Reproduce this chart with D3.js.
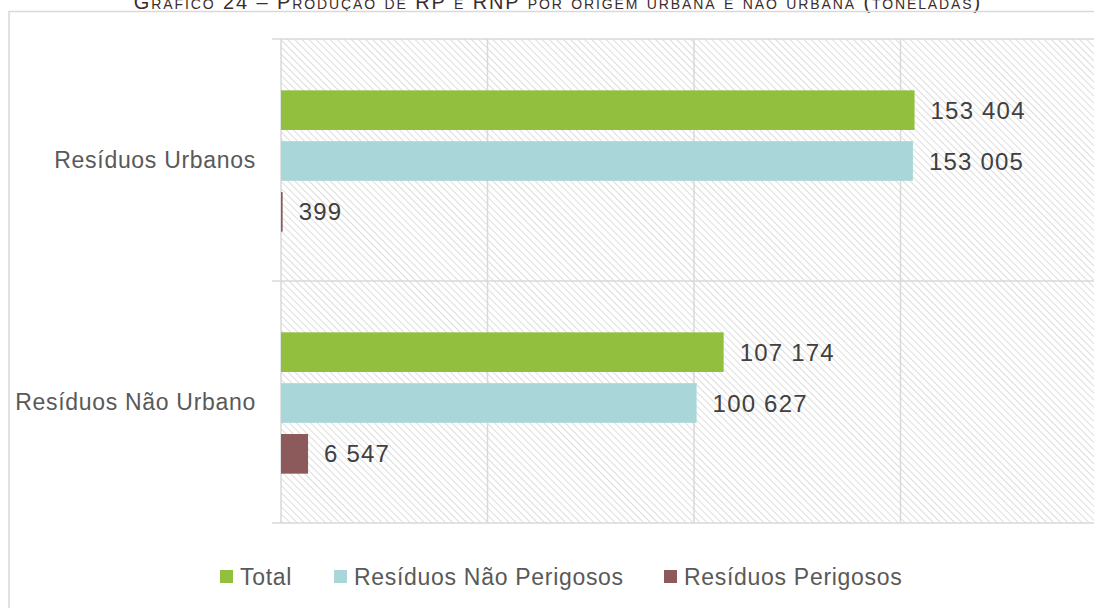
<!DOCTYPE html>
<html>
<head>
<meta charset="utf-8">
<script src="https://cdn.jsdelivr.net/npm/d3@7"></script>
<style>
  html, body { margin: 0; padding: 0; background: #fff; }
  svg { display: block; font-family: "Liberation Sans", Arial, sans-serif; }
</style>
</head>
<body>
<svg id="chart" width="1094" height="608"></svg>
<script>
// dados
const categorias = ['Resíduos Urbanos', 'Resíduos Não Urbano'];
const series = ['Total', 'Resíduos Não Perigosos', 'Resíduos Perigosos'];
const valoresTotal = [153404, 107174];
const valoresNaoPerigosos = [153005, 100627];
const valoresPerigosos = [399, 6547];
const ticksX = [0, 50000, 100000, 150000, 200000];
const coresSeries = ['#93bf3f', '#a9d6d8', '#8c5a5a'];
const tituloGrafico = 'Gráfico 24 – Produção de RP e RNP por origem urbana e não urbana (toneladas)';

const valoresPorSerie = [valoresTotal, valoresNaoPerigosos, valoresPerigosos];

const svg = d3.select('#chart');
const largura = 1094, altura = 608;
const margem = { topo: 39, esquerda: 281, baixo: 523 };

// padrão tracejado do fundo
const defs = svg.append('defs');
const padrao = defs.append('pattern')
    .attr('id', 'tracejado')
    .attr('patternUnits', 'userSpaceOnUse')
    .attr('width', 5)
    .attr('height', 5)
    .attr('patternTransform', 'rotate(-45)');
padrao.append('line')
    .attr('x1', 0).attr('y1', 0).attr('x2', 0).attr('y2', 5)
    .attr('stroke', '#d4d4d4')
    .attr('stroke-width', 1.6);

// título (cortado no topo como no original)
svg.append('text')
    .attr('x', 558)
    .attr('y', 9)
    .attr('text-anchor', 'middle')
    .style('font-size', '20px')
    .style('font-variant', 'small-caps')
    .style('letter-spacing', '1.9px')
    .attr('fill', '#3a2c2c')
    .text(tituloGrafico);

// moldura do gráfico
svg.append('rect')
    .attr('x', 9)
    .attr('y', 11.5)
    .attr('width', 1200)
    .attr('height', 700)
    .attr('fill', 'none')
    .attr('stroke', '#d9d9d9')
    .attr('stroke-width', 1.5);

const escalaX = d3.scaleLinear()
    .domain([0, 200000])
    .range([margem.esquerda, 1107]);

const escalaY = d3.scaleBand()
    .domain(categorias)
    .range([margem.topo, margem.baixo])
    .paddingInner(0)
    .paddingOuter(0);

const escalaSerie = d3.scaleBand()
    .domain(series)
    .range([0, escalaY.bandwidth()])
    .paddingInner(0.22)
    .paddingOuter(0.99);

// fundo da área de plotagem
svg.append('rect')
    .attr('x', margem.esquerda)
    .attr('y', margem.topo)
    .attr('width', largura - margem.esquerda)
    .attr('height', margem.baixo - margem.topo)
    .attr('fill', 'url(#tracejado)');

// linhas de grelha verticais
svg.append('g')
    .selectAll('line')
    .data(ticksX)
    .enter().append('line')
    .attr('x1', d => escalaX(d))
    .attr('x2', d => escalaX(d))
    .attr('y1', margem.topo)
    .attr('y2', margem.baixo)
    .attr('stroke', '#d9d9d9')
    .attr('stroke-width', 1.5);

// separadores das categorias
const limitesCategorias = categorias.map(c => escalaY(c)).concat([margem.baixo]);
svg.append('g')
    .selectAll('line')
    .data(limitesCategorias)
    .enter().append('line')
    .attr('x1', margem.esquerda - 9)
    .attr('x2', largura)
    .attr('y1', d => d)
    .attr('y2', d => d)
    .attr('stroke', '#d9d9d9')
    .attr('stroke-width', 1.5);

// rótulos das categorias
svg.append('g')
    .selectAll('text')
    .data(categorias)
    .enter().append('text')
    .attr('x', 256)
    .attr('y', d => escalaY(d) + escalaY.bandwidth() / 2)
    .attr('dy', '0.35em')
    .attr('text-anchor', 'end')
    .style('font-size', '23px')
    .style('letter-spacing', '0.7px')
    .attr('fill', '#595959')
    .text(d => d);

// barras e rótulos de valores
const dadosBarras = [];
categorias.forEach((cat, i) => {
    series.forEach((serie, j) => {
        dadosBarras.push({ categoria: cat, serie: serie, valor: valoresPorSerie[j][i], cor: coresSeries[j] });
    });
});

const formatoValor = v => d3.format(',')(v).replace(/,/g, ' ');

const grupoBarras = svg.append('g');
grupoBarras.selectAll('rect')
    .data(dadosBarras)
    .enter().append('rect')
    .attr('x', escalaX(0))
    .attr('y', d => escalaY(d.categoria) + escalaSerie(d.serie) + 1)
    .attr('width', d => Math.max(escalaX(d.valor) - escalaX(0), 1.5))
    .attr('height', escalaSerie.bandwidth())
    .attr('fill', d => d.cor);

grupoBarras.selectAll('text')
    .data(dadosBarras)
    .enter().append('text')
    .attr('x', d => escalaX(d.valor) + 16)
    .attr('y', d => escalaY(d.categoria) + escalaSerie(d.serie) + escalaSerie.bandwidth() / 2 + 1)
    .attr('dy', '0.36em')
    .style('font-size', '24px')
    .style('letter-spacing', '1.2px')
    .attr('fill', '#404040')
    .text(d => formatoValor(d.valor));

// legenda
const posicoesLegenda = [220, 334, 664];
const legenda = svg.append('g');
const itensLegenda = legenda.selectAll('g')
    .data(series)
    .enter().append('g')
    .attr('transform', (d, i) => `translate(${posicoesLegenda[i]},577)`);
itensLegenda.append('rect')
    .attr('x', 0)
    .attr('y', -7)
    .attr('width', 13)
    .attr('height', 13)
    .attr('fill', (d, i) => coresSeries[i]);
itensLegenda.append('text')
    .attr('x', 20)
    .attr('y', 0)
    .attr('dy', '0.36em')
    .style('font-size', '23px')
    .style('letter-spacing', '0.7px')
    .attr('fill', '#595959')
    .text(d => d);
</script>
</body>
</html>
